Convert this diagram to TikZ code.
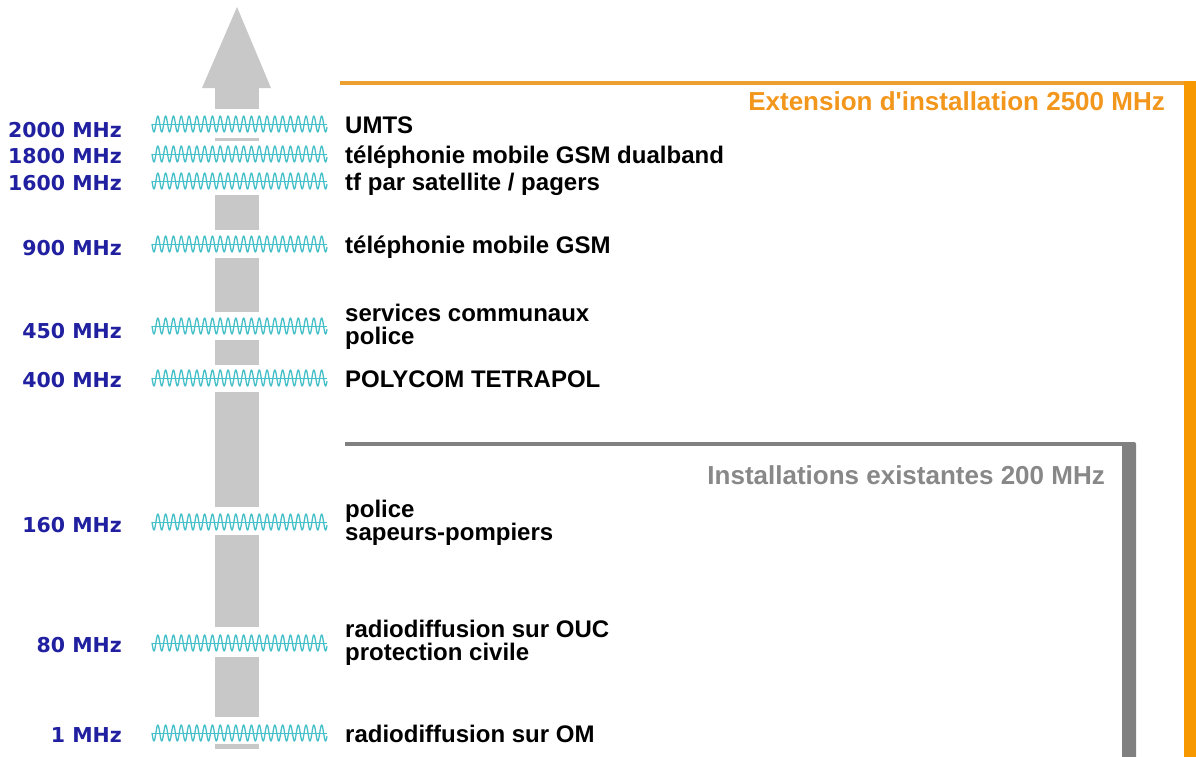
\documentclass[tikz,border=0pt]{standalone}
\usepackage{fontspec}
\setmainfont{Liberation Sans}
\newfontfamily\freqfont{DejaVu Sans}

\definecolor{freqblue}{RGB}{32,32,160}
\definecolor{arrowgray}{RGB}{200,200,200}
\definecolor{wavecyan}{RGB}{70,192,200}
\definecolor{orangeline}{RGB}{236,160,48}
\definecolor{orangebar}{RGB}{247,152,0}
\definecolor{orangetext}{RGB}{242,150,28}
\definecolor{grayline}{RGB}{128,128,128}
\definecolor{graytext}{RGB}{136,136,136}

\tikzset{
  freq/.style={anchor=base east, inner sep=0, text=freqblue,
    font=\freqfont\bfseries\fontsize{20.5}{24}\selectfont},
  desc/.style={anchor=base west, inner sep=0, text=black,
    font=\bfseries\fontsize{24}{23}\selectfont},
  rangelabel/.style={anchor=base east, inner sep=0,
    font=\bfseries\fontsize{26}{30}\selectfont},
  midline/.style={draw=wavecyan, line width=0.8pt},
  sinewave/.style={draw=wavecyan, line width=1.3pt, line join=round}
}

\begin{document}
\begin{tikzpicture}[x=1pt, y=-1pt]
  \useasboundingbox (0,0) rectangle (1196,756);
  \fill[white] (0,0) rectangle (1196,756);

  % frequency axis: upward arrow, shaft cut open around each band
  \fill[arrowgray] (202,88) -- (237,7) -- (271,88) -- cycle;
  \foreach \a/\b in {87/109, 138/141, 195/230, 258/312, 340/365,
                     392/507, 535/627, 657/717, 744/749}
    \fill[arrowgray] (215,\a) rectangle (259,\b);

  % oscillations drawn at each band (period 7.8, i.e. 46.15 deg per unit)
  \foreach \c in {124,154,181,244,326,378,522,643,733} {
    \draw[midline] (152,\c) -- (327,\c);
    \draw[sinewave] plot[domain=0:175, samples=360]
      ({152+\x}, {\c + 8*sin(46.15*\x)});
  }

  % frequency labels
  \node[freq] (f2000) at (122,137) {2000 MHz};
  \node[freq] (f1800) at (122,163) {1800 MHz};
  \node[freq] (f1600) at (122,190) {1600 MHz};
  \node[freq] (f900)  at (122,255) {900 MHz};
  \node[freq] (f450)  at (122,338) {450 MHz};
  \node[freq] (f400)  at (122,387) {400 MHz};
  \node[freq] (f160)  at (122,532) {160 MHz};
  \node[freq] (f80)   at (122,652) {80 MHz};
  \node[freq] (f1)    at (122,742) {1 MHz};

  % services using each band
  \node[desc] (d2000)  at (345,133) {UMTS};
  \node[desc] (d1800)  at (345,163) {téléphonie mobile GSM dualband};
  \node[desc] (d1600)  at (345,190) {tf par satellite / pagers};
  \node[desc] (d900)   at (345,253) {téléphonie mobile GSM};
  \node[desc] (d450a)  at (345,321) {services communaux};
  \node[desc] (d450b)  at (345,344) {police};
  \node[desc] (d400)   at (345,387) {POLYCOM TETRAPOL};
  \node[desc] (d160a)  at (345,517) {police};
  \node[desc] (d160b)  at (345,540) {sapeurs-pompiers};
  \node[desc] (d80a)   at (345,637) {radiodiffusion sur OUC};
  \node[desc] (d80b)   at (345,660) {protection civile};
  \node[desc] (d1)     at (345,742) {radiodiffusion sur OM};

  % extended installation range (orange frame)
  \draw[orangeline, line width=4pt] (340,83) -- (1186,83);
  \fill[orangebar, rounded corners=2pt] (1184,81) rectangle (1200,760);
  \node[rangelabel, text=orangetext] (ext) at (1165,110)
    {Extension d\textquotesingle installation 2500 MHz};

  % existing installation range (gray frame)
  \draw[grayline, line width=4pt] (345,444) -- (1124,444);
  \fill[grayline, rounded corners=2pt] (1122,442) rectangle (1136,760);
  \node[rangelabel, text=graytext] (exist) at (1105,484)
    {Installations existantes 200 MHz};
\end{tikzpicture}
\end{document}
